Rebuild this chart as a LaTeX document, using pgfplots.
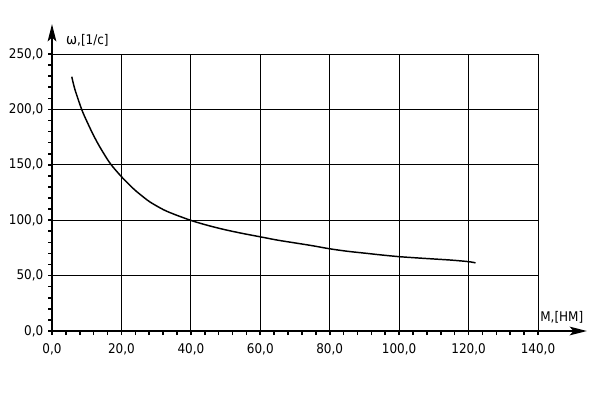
\documentclass[border=0pt]{standalone}
\usepackage{fontspec}
\setmainfont{DejaVu Sans Condensed}
\usepackage{pgfplots}
\pgfplotsset{compat=1.18}
\usetikzlibrary{arrows.meta}

\begin{document}
\begin{tikzpicture}
\begin{axis}[
    scale only axis,
    width=364.5pt, height=207.75pt,
    xmin=0, xmax=140, ymin=0, ymax=250,
    axis lines=left,
    axis line style={draw=none},
    xtick={0,20,...,140}, ytick={0,50,...,250},
    minor x tick num=4, minor y tick num=4,
    tick align=outside,
    major tick length=3pt, minor tick length=3pt,
    every tick/.style={black, line width=1.2pt},
    grid=major,
    major grid style={black, line width=0.75pt},
    tick label style={font=\fontsize{10}{12}\selectfont},
    xticklabel style={yshift=-3pt},
    /pgf/number format/.cd, fixed, fixed zerofill, precision=1, use comma,
    assume math mode=true,
    /pgfplots/.cd,
    clip=false,
]

\addplot[black, line width=1.1pt, smooth, tension=0.5] coordinates {
  (5.7,229.5) (6.6,218) (8.55,200) (10,189.5) (11.9,177) (13.8,166)
  (16.7,151.5) (20,139.3) (23.4,128.6) (25.3,123.5) (28.2,116.5)
  (32.1,109.5) (35,105.6) (37.8,102.3) (40.5,99.3) (45,95.2) (50,91.3)
  (55,88) (60,85) (65,82) (70,79.5) (75,77) (80,74.2) (85,72) (90,70.3)
  (95,68.6) (100,67.1) (105,66) (110,65) (115,64) (120,62.6) (122,61.5)
};

\draw[line width=1.5pt, -{Stealth[length=13pt, width=6.5pt, inset=3pt]}]
  (axis cs:0,0) -- (axis cs:154.1,0);
\draw[line width=1.5pt, -{Stealth[length=13pt, width=6.5pt, inset=3pt]}]
  (axis cs:0,0) -- (axis cs:0,277);

\node[anchor=west, inner sep=0pt, font=\fontsize{10}{12}\selectfont]
  at (axis cs:4.0,262.6) {{\fontsize{11}{12}\selectfont ω},[1/с]};
\node[anchor=west, inner sep=0pt, font=\fontsize{10}{12}\selectfont]
  at (axis cs:140.6,12.6) {M,[НМ]};

\coordinate (bl) at (axis cs:-14.98,-74.01);
\coordinate (tr) at (axis cs:159.30,298.74);
\end{axis}
\pgfresetboundingbox
\path (bl) rectangle (tr);
\end{tikzpicture}
\end{document}
